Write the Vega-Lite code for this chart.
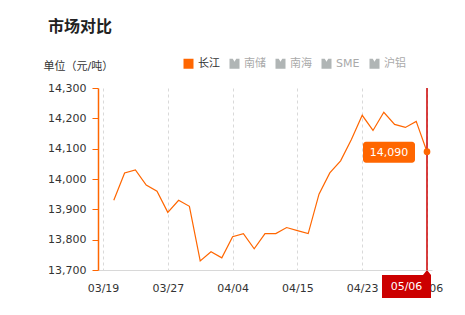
{
  "$schema": "https://vega.github.io/schema/vega-lite/v6.json",
  "autosize": "none",
  "width": 334,
  "height": 182,
  "padding": {"left": 98, "top": 88, "right": 33, "bottom": 45},
  "background": "#ffffff",
  "config": {
    "font": "DejaVu Sans, Noto Sans CJK SC, sans-serif",
    "view": {"stroke": null}
  },
  "title": {
    "text": "市场对比",
    "anchor": "start",
    "frame": "bounds",
    "fontSize": 16,
    "fontWeight": "bold",
    "font": "Noto Sans CJK SC, sans-serif",
    "color": "#222222",
    "offset": 23,
    "dx": 5
  },
  "datasets": {
    "prices": [
      {"date": "03/20", "series": "长江", "price": 13930},
      {"date": "03/21", "series": "长江", "price": 14020},
      {"date": "03/22", "series": "长江", "price": 14030},
      {"date": "03/25", "series": "长江", "price": 13980},
      {"date": "03/26", "series": "长江", "price": 13960},
      {"date": "03/27", "series": "长江", "price": 13890},
      {"date": "03/28", "series": "长江", "price": 13930},
      {"date": "03/29", "series": "长江", "price": 13910},
      {"date": "04/01", "series": "长江", "price": 13730},
      {"date": "04/02", "series": "长江", "price": 13760},
      {"date": "04/03", "series": "长江", "price": 13740},
      {"date": "04/04", "series": "长江", "price": 13810},
      {"date": "04/08", "series": "长江", "price": 13820},
      {"date": "04/09", "series": "长江", "price": 13770},
      {"date": "04/10", "series": "长江", "price": 13820},
      {"date": "04/11", "series": "长江", "price": 13820},
      {"date": "04/12", "series": "长江", "price": 13840},
      {"date": "04/15", "series": "长江", "price": 13830},
      {"date": "04/16", "series": "长江", "price": 13820},
      {"date": "04/17", "series": "长江", "price": 13950},
      {"date": "04/18", "series": "长江", "price": 14020},
      {"date": "04/19", "series": "长江", "price": 14060},
      {"date": "04/22", "series": "长江", "price": 14130},
      {"date": "04/23", "series": "长江", "price": 14210},
      {"date": "04/24", "series": "长江", "price": 14160},
      {"date": "04/25", "series": "长江", "price": 14220},
      {"date": "04/26", "series": "长江", "price": 14180},
      {"date": "04/29", "series": "长江", "price": 14170},
      {"date": "04/30", "series": "长江", "price": 14190},
      {"date": "05/06", "series": "长江", "price": 14090}
    ]
  },
  "data": {"name": "prices"},
  "encoding": {
    "x": {
      "field": "date",
      "type": "ordinal",
      "scale": {
        "type": "point",
        "padding": 0.463,
        "domain": ["03/19", "03/20", "03/21", "03/22", "03/25", "03/26", "03/27", "03/28", "03/29", "04/01", "04/02", "04/03", "04/04", "04/08", "04/09", "04/10", "04/11", "04/12", "04/15", "04/16", "04/17", "04/18", "04/19", "04/22", "04/23", "04/24", "04/25", "04/26", "04/29", "04/30", "05/06"]
      },
      "axis": {
        "title": null,
        "values": ["03/19", "03/27", "04/04", "04/15", "04/23", "05/06"],
        "labelAngle": 0,
        "labelFontSize": 11,
        "labelColor": "#333333",
        "labelPadding": 12,
        "ticks": false,
        "tickSize": 0,
        "domainColor": "#d8d8d8",
        "grid": true,
        "gridColor": "#d9d9d9",
        "gridDash": [3, 3]
      }
    },
    "y": {
      "field": "price",
      "type": "quantitative",
      "scale": {"domain": [13700, 14300], "zero": false, "nice": false},
      "axis": {
        "title": "单位（元/吨）",
        "titleAngle": 0,
        "titleAlign": "left",
        "titleBaseline": "middle",
        "titleX": -55,
        "titleY": -22,
        "titleFontSize": 11,
        "titleFontWeight": "normal",
        "titleColor": "#333333",
        "values": [13700, 13800, 13900, 14000, 14100, 14200, 14300],
        "format": ",d",
        "labelFontSize": 11,
        "labelColor": "#333333",
        "labelPadding": 6,
        "tickSize": 6,
        "tickColor": "#ff6600",
        "domainColor": "#ff6600",
        "domainWidth": 1.5,
        "grid": false
      }
    }
  },
  "layer": [
    {
      "mark": {"type": "line", "strokeWidth": 1.2},
      "encoding": {
        "color": {
          "field": "series",
          "type": "nominal",
          "scale": {
            "domain": ["长江", "南储", "南海", "SME", "沪铝"],
            "range": ["#ff6600", "#b0b5b5", "#b0b5b5", "#b0b5b5", "#b0b5b5"]
          },
          "legend": {
            "title": null,
            "orient": "none",
            "direction": "horizontal",
            "legendX": 85,
            "legendY": -30,
            "padding": 0,
            "symbolType": "square",
            "symbolSize": 100,
            "symbolStrokeWidth": 0,
            "labelFontSize": 11,
            "labelOffset": 4,
            "columnPadding": 9,
            "encode": {
              "symbols": {
                "update": {
                  "shape": {"signal": "datum.value === '长江' ? 'square' : 'M-1,-1L-0.35,-1L0,-0.4L0.35,-1L1,-1L1,1L-1,1Z'"},
                  "fill": {"signal": "datum.value === '长江' ? '#ff6600' : '#b0b5b5'"},
                  "opacity": {"value": 1}
                }
              },
              "labels": {
                "update": {
                  "fill": {"signal": "datum.value === '长江' ? '#333333' : '#aaaaaa'"}
                }
              }
            }
          }
        }
      }
    },
    {
      "transform": [{"filter": {"field": "date", "equal": "05/06"}}],
      "mark": {"type": "rule", "color": "#cc0000", "strokeWidth": 1.5},
      "encoding": {"y": null}
    },
    {
      "transform": [{"filter": {"field": "date", "equal": "05/06"}}],
      "mark": {"type": "point", "filled": true, "color": "#ff6600", "size": 45, "opacity": 1}
    },
    {
      "transform": [{"filter": {"field": "date", "equal": "05/06"}}],
      "mark": {
        "type": "rect",
        "color": "#ff6600",
        "cornerRadius": 3,
        "xOffset": -64,
        "x2Offset": -12,
        "yOffset": -10,
        "y2Offset": 11
      },
      "encoding": {
        "x2": {"field": "date"},
        "y2": {"field": "price"}
      }
    },
    {
      "transform": [{"filter": {"field": "date", "equal": "05/06"}}],
      "mark": {"type": "text", "color": "#ffffff", "fontSize": 11, "dx": -38, "dy": 1, "baseline": "middle", "align": "center"},
      "encoding": {"text": {"field": "price", "type": "quantitative", "format": ",d"}}
    },
    {
      "transform": [{"filter": {"field": "date", "equal": "05/06"}}],
      "mark": {
        "type": "point",
        "filled": true,
        "color": "#cc0000",
        "opacity": 1,
        "size": 4,
        "shape": "M0,0L4,5L4,28L-45,28L-45,5L-4,5Z"
      },
      "encoding": {"y": {"datum": 13700}}
    },
    {
      "transform": [{"filter": {"field": "date", "equal": "05/06"}}],
      "mark": {"type": "text", "color": "#ffffff", "fontSize": 11, "dx": -20.5, "dy": 16.5, "baseline": "middle", "align": "center"},
      "encoding": {"y": {"datum": 13700}, "text": {"field": "date"}}
    }
  ]
}
